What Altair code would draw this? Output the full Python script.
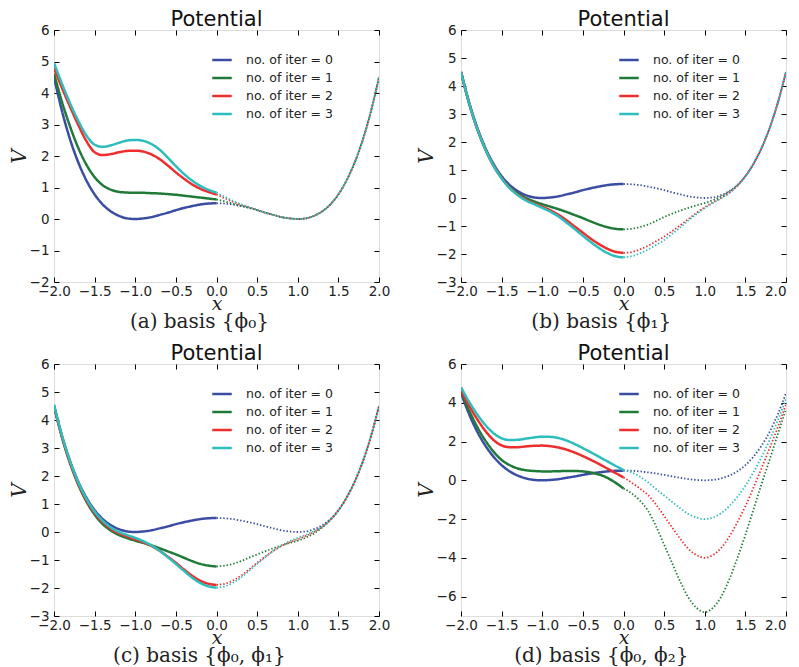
import altair as alt
import pandas as pd

X_LEFT = [-2.0, -1.9, -1.8, -1.7, -1.6, -1.5, -1.4, -1.3, -1.2, -1.1, -1.0,
          -0.9, -0.8, -0.7, -0.6, -0.5, -0.4, -0.3, -0.2, -0.1, 0.0]
X_RIGHT = [0.0, 0.1, 0.2, 0.3, 0.4, 0.5, 0.6, 0.7, 0.8, 0.9, 1.0,
           1.1, 1.2, 1.3, 1.4, 1.5, 1.6, 1.7, 1.8, 1.9, 2.0]

ITER_LABELS = ["no. of iter = 0", "no. of iter = 1", "no. of iter = 2", "no. of iter = 3"]
COLORS = ["#3a4da3", "#1f7a38", "#ee2d2d", "#2dbdbd"]
X_TICKS = [-2.0, -1.5, -1.0, -0.5, 0.0, 0.5, 1.0, 1.5, 2.0]

# iteration 0 (common to all panels)
BLUE_L = [4.50, 3.41, 2.51, 1.79, 1.22, 0.78, 0.46, 0.24, 0.10, 0.02, 0.00,
          0.02, 0.06, 0.13, 0.20, 0.28, 0.35, 0.41, 0.46, 0.49, 0.50]
BLUE_R = [0.50, 0.49, 0.46, 0.41, 0.35, 0.28, 0.20, 0.13, 0.06, 0.02, 0.00,
          0.02, 0.10, 0.24, 0.46, 0.78, 1.22, 1.79, 2.51, 3.41, 4.50]

# panel (a)
A_G_L = [4.62, 3.70, 2.92, 2.25, 1.72, 1.33, 1.07, 0.93, 0.86, 0.84, 0.83,
         0.83, 0.82, 0.81, 0.79, 0.77, 0.74, 0.71, 0.68, 0.65, 0.62]
A_R_L = [4.80, 4.15, 3.55, 2.98, 2.47, 2.12, 2.03, 2.06, 2.12, 2.16, 2.17,
         2.14, 2.05, 1.90, 1.70, 1.48, 1.28, 1.10, 0.96, 0.86, 0.78]
A_C_L = [4.95, 4.28, 3.66, 3.11, 2.65, 2.36, 2.29, 2.34, 2.42, 2.49, 2.51,
         2.48, 2.38, 2.20, 1.95, 1.68, 1.43, 1.22, 1.05, 0.93, 0.84]
A_G_R = [0.62, 0.56, 0.49, 0.42, 0.36, 0.28, 0.20, 0.13, 0.06, 0.02, 0.00,
         0.02, 0.10, 0.24, 0.46, 0.78, 1.22, 1.79, 2.51, 3.41, 4.50]
A_R_R = [0.78, 0.66, 0.55, 0.45, 0.37, 0.29, 0.20, 0.13, 0.06, 0.02, 0.00,
         0.02, 0.10, 0.24, 0.46, 0.78, 1.22, 1.79, 2.51, 3.41, 4.50]
A_C_R = [0.84, 0.71, 0.58, 0.47, 0.38, 0.29, 0.20, 0.13, 0.06, 0.02, 0.00,
         0.02, 0.10, 0.24, 0.46, 0.78, 1.22, 1.79, 2.51, 3.41, 4.50]

# panel (b)
B_G_L = [4.50, 3.38, 2.47, 1.74, 1.16, 0.72, 0.39, 0.16, 0.00, -0.12, -0.22,
         -0.31, -0.40, -0.50, -0.61, -0.72, -0.84, -0.95, -1.04, -1.10, -1.12]
B_R_L = [4.50, 3.38, 2.47, 1.74, 1.16, 0.71, 0.37, 0.12, -0.06, -0.19, -0.31,
         -0.44, -0.60, -0.80, -1.02, -1.24, -1.46, -1.65, -1.81, -1.92, -1.96]
B_C_L = [4.50, 3.38, 2.47, 1.74, 1.16, 0.70, 0.35, 0.10, -0.09, -0.22, -0.35,
         -0.49, -0.66, -0.88, -1.11, -1.35, -1.58, -1.79, -1.96, -2.08, -2.12]
B_G_R = [-1.12, -1.10, -1.04, -0.95, -0.82, -0.68, -0.56, -0.45, -0.35, -0.26, -0.18,
         -0.08, 0.05, 0.22, 0.45, 0.78, 1.22, 1.79, 2.51, 3.41, 4.50]
B_R_R = [-1.96, -1.93, -1.84, -1.71, -1.55, -1.38, -1.18, -0.97, -0.75, -0.53, -0.33,
         -0.16, 0.00, 0.18, 0.43, 0.77, 1.22, 1.79, 2.51, 3.41, 4.50]
B_C_R = [-2.12, -2.08, -1.98, -1.84, -1.68, -1.50, -1.28, -1.05, -0.80, -0.57, -0.36,
         -0.18, -0.01, 0.17, 0.43, 0.77, 1.22, 1.79, 2.51, 3.41, 4.50]

# panel (c)
C_G_L = [4.50, 3.36, 2.43, 1.68, 1.08, 0.62, 0.28, 0.05, -0.11, -0.22, -0.31,
         -0.39, -0.48, -0.58, -0.69, -0.80, -0.92, -1.04, -1.14, -1.20, -1.23]
C_R_L = [4.50, 3.38, 2.46, 1.72, 1.13, 0.68, 0.35, 0.11, -0.05, -0.16, -0.26,
         -0.37, -0.50, -0.67, -0.88, -1.10, -1.34, -1.56, -1.74, -1.85, -1.89]
C_C_L = [4.55, 3.43, 2.51, 1.77, 1.18, 0.73, 0.40, 0.16, 0.00, -0.11, -0.21,
         -0.33, -0.48, -0.67, -0.90, -1.14, -1.39, -1.63, -1.82, -1.94, -1.99]
C_G_R = [-1.23, -1.20, -1.14, -1.04, -0.92, -0.80, -0.69, -0.58, -0.48, -0.39, -0.31,
         -0.20, -0.05, 0.16, 0.42, 0.76, 1.22, 1.79, 2.51, 3.41, 4.50]
C_R_R = [-1.89, -1.85, -1.74, -1.56, -1.34, -1.10, -0.88, -0.67, -0.50, -0.37, -0.26,
         -0.14, 0.00, 0.18, 0.43, 0.77, 1.22, 1.79, 2.51, 3.41, 4.50]
C_C_R = [-1.99, -1.94, -1.82, -1.63, -1.39, -1.14, -0.90, -0.67, -0.48, -0.33, -0.21,
         -0.10, 0.03, 0.19, 0.44, 0.77, 1.22, 1.79, 2.51, 3.41, 4.50]

# panel (d)
D_G_L = [4.55, 3.60, 2.75, 2.05, 1.48, 1.05, 0.78, 0.61, 0.52, 0.48, 0.46,
         0.46, 0.47, 0.48, 0.48, 0.46, 0.40, 0.30, 0.13, -0.12, -0.42]
D_R_L = [4.65, 3.85, 3.15, 2.55, 2.08, 1.80, 1.71, 1.71, 1.75, 1.78, 1.79,
         1.76, 1.69, 1.58, 1.43, 1.25, 1.05, 0.84, 0.61, 0.38, 0.15]
D_C_L = [4.80, 4.05, 3.40, 2.85, 2.43, 2.17, 2.08, 2.09, 2.15, 2.21, 2.25,
         2.24, 2.18, 2.05, 1.87, 1.66, 1.44, 1.21, 0.98, 0.75, 0.53]
D_G_R = [-0.42, -0.67, -1.04, -1.56, -2.37, -3.32, -4.29, -5.24, -6.06, -6.58, -6.80,
         -6.58, -6.02, -5.13, -4.03, -2.82, -1.50, -0.18, 1.08, 2.39, 3.68]
D_R_R = [0.15, -0.12, -0.42, -0.75, -1.25, -1.84, -2.44, -3.03, -3.54, -3.86, -4.00,
         -3.86, -3.50, -2.92, -2.18, -1.34, -0.38, 0.63, 1.67, 2.75, 3.92]
D_C_R = [0.53, 0.40, 0.20, -0.10, -0.45, -0.78, -1.12, -1.45, -1.74, -1.92, -2.00,
         -1.92, -1.70, -1.34, -0.86, -0.28, 0.42, 1.21, 2.09, 3.11, 4.20]

PANELS = [
    dict(series=[(BLUE_L, BLUE_R), (A_G_L, A_G_R), (A_R_L, A_R_R), (A_C_L, A_C_R)],
         ydom=[-2, 6], yticks=[-2, -1, 0, 1, 2, 3, 4, 5, 6], caption="(a)  basis {ϕ₀}", right=False),
    dict(series=[(BLUE_L, BLUE_R), (B_G_L, B_G_R), (B_R_L, B_R_R), (B_C_L, B_C_R)],
         ydom=[-3, 6], yticks=[-3, -2, -1, 0, 1, 2, 3, 4, 5, 6], caption="(b)  basis {ϕ₁}", right=True),
    dict(series=[(BLUE_L, BLUE_R), (C_G_L, C_G_R), (C_R_L, C_R_R), (C_C_L, C_C_R)],
         ydom=[-3, 6], yticks=[-3, -2, -1, 0, 1, 2, 3, 4, 5, 6], caption="(c)  basis {ϕ₀, ϕ₁}", right=False),
    dict(series=[(BLUE_L, BLUE_R), (D_G_L, D_G_R), (D_R_L, D_R_R), (D_C_L, D_C_R)],
         ydom=[-7, 6], yticks=[-6, -4, -2, 0, 2, 4, 6], caption="(d)  basis {ϕ₀, ϕ₂}", right=True),
]

W, H = 325, 252
SANS = "DejaVu Sans"
SERIF = "DejaVu Serif"


def make_df(series):
    rows = []
    for k, (left, right) in enumerate(series):
        for x, v in zip(X_LEFT, left):
            rows.append({"x": x, "V": v, "iter": ITER_LABELS[k], "seg": "solid"})
        for x, v in zip(X_RIGHT, right):
            rows.append({"x": x, "V": v, "iter": ITER_LABELS[k], "seg": "dotted"})
    return pd.DataFrame(rows)


def panel(p):
    df = make_df(p["series"])
    xs = alt.Scale(domain=[-2, 2], nice=False, zero=False)
    ys = alt.Scale(domain=p["ydom"], nice=False, zero=False)
    common = dict(domain=False, grid=False, tickColor="black", tickWidth=1,
                  tickSize=5, offset=-5, labelOverlap=False, labelFlush=False,
                  minExtent=0)
    if p["right"]:
        xalign = {"condition": {"test": "datum.value >= 2", "value": "right"}, "value": "center"}
    else:
        xalign = "center"
    x_bottom = alt.Axis(values=X_TICKS, labelExpr="replace(format(datum.value, '.1f'), '-', '\u2212')",
                        labelFont=SANS, labelFontSize=13.5, labelColor="#222", labelPadding=2,
                        labelAlign=xalign,
                        title="x", titleFont=SERIF, titleFontSize=19, titleFontStyle="italic",
                        titleFontWeight="normal", titleColor="#222", titlePadding=-3, **common)
    y_left = alt.Axis(values=p["yticks"], labelExpr="replace(format(datum.value, 'd'), '-', '\u2212')",
                      labelFont=SANS, labelFontSize=13.5, labelColor="#222", labelPadding=5,
                      title="V", titleFont=SERIF, titleFontSize=20, titleFontStyle="italic",
                      titleFontWeight="normal", titleColor="#222", titlePadding=0, **common)
    x_top = alt.Axis(values=X_TICKS, orient="top", labels=False, title=None, maxExtent=0, **common)
    y_right = alt.Axis(values=p["yticks"], orient="right", labels=False, title=None, maxExtent=0, **common)

    lines = alt.Chart(df).mark_line(interpolate="monotone", clip=True).encode(
        x=alt.X("x:Q", scale=xs, axis=x_bottom),
        y=alt.Y("V:Q", scale=ys, axis=y_left),
        color=alt.Color("iter:N", scale=alt.Scale(domain=ITER_LABELS, range=COLORS),
                        legend=alt.Legend(orient="none", legendX=157, legendY=19, title=None,
                                          symbolType="stroke", symbolSize=380, symbolStrokeWidth=2.5,
                                          labelFont=SANS, labelFontSize=12.5, labelColor="#222",
                                          labelOffset=13, rowPadding=0, padding=0)),
        strokeDash=alt.StrokeDash("seg:N", scale=alt.Scale(domain=["solid", "dotted"],
                                                           range=[[1, 0], [1.4, 2.0]]), legend=None),
        strokeWidth=alt.StrokeWidth("seg:N", scale=alt.Scale(domain=["solid", "dotted"],
                                                             range=[2.5, 1.8]), legend=None),
    )
    frame = alt.Chart(df).mark_point(opacity=0, size=1).encode(
        x=alt.X("x:Q", scale=xs, axis=x_top),
        y=alt.Y("V:Q", scale=ys, axis=y_right),
    )
    lay = alt.layer(lines, frame).resolve_axis(x="independent", y="independent").properties(
        width=W, height=H,
        title=alt.Title("Potential", font=SANS, fontSize=21, fontWeight="normal", color="#111",
                        offset=-7, anchor="middle"),
    )
    return alt.vconcat(lay, title=alt.Title(p["caption"], orient="bottom", font=SERIF, fontSize=20,
                                            fontWeight="normal", color="#222", offset=-2,
                                            anchor="middle")).resolve_scale(
        color="independent", strokeDash="independent", strokeWidth="independent")


def res(c):
    return c.resolve_scale(color="independent", strokeDash="independent", strokeWidth="independent")


row1 = res(alt.hconcat(panel(PANELS[0]), panel(PANELS[1]), spacing=24))
row2 = res(alt.hconcat(panel(PANELS[2]), panel(PANELS[3]), spacing=24))
chart = res(alt.vconcat(row1, row2, spacing=10)).properties(padding=0).configure_view(
    stroke="black", strokeWidth=1
).configure(background="white")

chart.save("out.html", embed_options={"renderer": "svg", "actions": False})
